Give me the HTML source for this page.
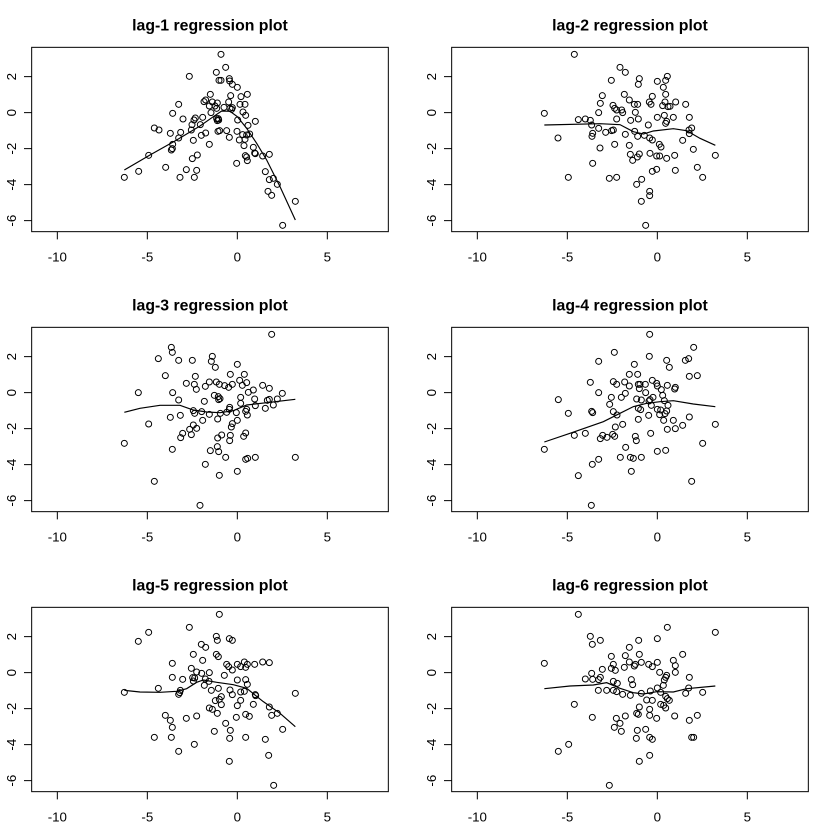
<!DOCTYPE html>
<html><head><meta charset="utf-8"><style>
html,body{margin:0;padding:0;background:#fff}
svg{display:block}
text{font-family:"Liberation Sans",sans-serif;fill:#000}
.t{font-size:47.5px;font-weight:bold;text-anchor:middle}
.l{font-size:40px;text-anchor:middle}
.f{fill:none;stroke:#000;stroke-width:3}
.p circle{fill:none;stroke:#000;stroke-width:3;r:9}
.ln{fill:none;stroke:#000;stroke-width:3.5}
</style></head><body>
<svg width="840" height="840" viewBox="0 0 840 840" xmlns="http://www.w3.org/2000/svg">
<defs>
<g id="ax">
<rect class="f" x="95" y="142" width="1070" height="553"/>
<path class="f" d="M172,695V718M442,695V718M712,695V718M982,695V718M95,230H72M95,338H72M95,446H72M95,554H72M95,662H72"/>
</g>
</defs>

<!-- Panel 1 -->
<g transform="translate(0,0) scale(0.33333)">
<use href="#ax"/>
<text class="t" x="630" y="92">lag-1 regression plot</text>
<text class="l" x="172" y="785">-10</text><text class="l" x="442" y="785">-5</text><text class="l" x="712" y="785">0</text><text class="l" x="982" y="785">5</text>
<text class="l" transform="translate(48,230) rotate(-90)">2</text><text class="l" transform="translate(48,338) rotate(-90)">0</text><text class="l" transform="translate(48,446) rotate(-90)">-2</text><text class="l" transform="translate(48,554) rotate(-90)">-4</text><text class="l" transform="translate(48,662) rotate(-90)">-6</text>
<polyline class="ln" points="373,510 450,465 530,420 600,378 640,350 665,333 690,334 712,350 740,385 770,430 800,480 840,560 886,660"/>
<g class="p">
<circle cx="663" cy="163" r="9"/><circle cx="649" cy="217" r="9"/><circle cx="677" cy="202" r="9"/><circle cx="568" cy="229" r="9"/><circle cx="657" cy="241" r="9"/><circle cx="663" cy="241" r="9"/><circle cx="688" cy="236" r="9"/><circle cx="689" cy="243" r="9"/><circle cx="697" cy="253" r="9"/><circle cx="712" cy="262" r="9"/><circle cx="631" cy="283" r="9"/><circle cx="692" cy="287" r="9"/><circle cx="742" cy="283" r="9"/><circle cx="723" cy="290" r="9"/><circle cx="612" cy="305" r="9"/><circle cx="617" cy="300" r="9"/><circle cx="637" cy="306" r="9"/><circle cx="652" cy="309" r="9"/><circle cx="686" cy="306" r="9"/><circle cx="720" cy="313" r="9"/><circle cx="735" cy="313" r="9"/><circle cx="536" cy="313" r="9"/><circle cx="628" cy="318" r="9"/><circle cx="645" cy="318" r="9"/><circle cx="650" cy="325" r="9"/><circle cx="672" cy="322" r="9"/><circle cx="690" cy="325" r="9"/><circle cx="695" cy="328" r="9"/><circle cx="697" cy="323" r="9"/><circle cx="729" cy="336" r="9"/><circle cx="633" cy="338" r="9"/><circle cx="518" cy="340" r="9"/><circle cx="737" cy="346" r="9"/><circle cx="549" cy="357" r="9"/><circle cx="586" cy="354" r="9"/><circle cx="582" cy="360" r="9"/><circle cx="608" cy="352" r="9"/><circle cx="650" cy="356" r="9"/><circle cx="655" cy="356" r="9"/><circle cx="656" cy="360" r="9"/><circle cx="652" cy="362" r="9"/><circle cx="713" cy="360" r="9"/><circle cx="766" cy="364" r="9"/><circle cx="744" cy="376" r="9"/><circle cx="601" cy="374" r="9"/><circle cx="576" cy="374" r="9"/><circle cx="463" cy="384" r="9"/><circle cx="477" cy="390" r="9"/><circle cx="511" cy="400" r="9"/><circle cx="542" cy="397" r="9"/><circle cx="574" cy="390" r="9"/><circle cx="654" cy="394" r="9"/><circle cx="659" cy="392" r="9"/><circle cx="680" cy="392" r="9"/><circle cx="711" cy="394" r="9"/><circle cx="728" cy="404" r="9"/><circle cx="740" cy="405" r="9"/><circle cx="749" cy="402" r="9"/><circle cx="688" cy="412" r="9"/><circle cx="617" cy="399" r="9"/><circle cx="604" cy="406" r="9"/><circle cx="536" cy="414" r="9"/><circle cx="718" cy="420" r="9"/><circle cx="735" cy="418" r="9"/><circle cx="580" cy="421" r="9"/><circle cx="628" cy="433" r="9"/><circle cx="518" cy="433" r="9"/><circle cx="517" cy="446" r="9"/><circle cx="514" cy="450" r="9"/><circle cx="732" cy="437" r="9"/><circle cx="760" cy="442" r="9"/><circle cx="764" cy="459" r="9"/><circle cx="766" cy="461" r="9"/><circle cx="446" cy="466" r="9"/><circle cx="592" cy="465" r="9"/><circle cx="736" cy="467" r="9"/><circle cx="740" cy="471" r="9"/><circle cx="742" cy="482" r="9"/><circle cx="788" cy="468" r="9"/><circle cx="808" cy="463" r="9"/><circle cx="577" cy="476" r="9"/><circle cx="710" cy="490" r="9"/><circle cx="497" cy="502" r="9"/><circle cx="559" cy="509" r="9"/><circle cx="590" cy="511" r="9"/><circle cx="416" cy="514" r="9"/><circle cx="796" cy="515" r="9"/><circle cx="373" cy="532" r="9"/><circle cx="540" cy="532" r="9"/><circle cx="583" cy="532" r="9"/><circle cx="808" cy="539" r="9"/><circle cx="820" cy="535" r="9"/><circle cx="832" cy="553" r="9"/><circle cx="804" cy="574" r="9"/><circle cx="815" cy="586" r="9"/><circle cx="886" cy="604" r="9"/><circle cx="848" cy="676" r="9"/>
</g></g>

<!-- Panel 2 -->
<g transform="translate(420,0) scale(0.33333)">
<use href="#ax"/>
<text class="t" x="630" y="92">lag-2 regression plot</text>
<text class="l" x="172" y="785">-10</text><text class="l" x="442" y="785">-5</text><text class="l" x="712" y="785">0</text><text class="l" x="982" y="785">5</text>
<text class="l" transform="translate(48,230) rotate(-90)">2</text><text class="l" transform="translate(48,338) rotate(-90)">0</text><text class="l" transform="translate(48,446) rotate(-90)">-2</text><text class="l" transform="translate(48,554) rotate(-90)">-4</text><text class="l" transform="translate(48,662) rotate(-90)">-6</text>
<polyline class="ln" points="373,375 540,371 600,374 640,395 670,402 700,393 760,386 800,392 840,415 886,436"/>
<g class="p">
<circle cx="463" cy="163" r="9"/><circle cx="600" cy="202" r="9"/><circle cx="616" cy="217" r="9"/><circle cx="574" cy="241" r="9"/><circle cx="658" cy="236" r="9"/><circle cx="655" cy="253" r="9"/><circle cx="742" cy="229" r="9"/><circle cx="737" cy="241" r="9"/><circle cx="712" cy="244" r="9"/><circle cx="730" cy="262" r="9"/><circle cx="613" cy="283" r="9"/><circle cx="547" cy="287" r="9"/><circle cx="697" cy="289" r="9"/><circle cx="737" cy="283" r="9"/><circle cx="628" cy="300" r="9"/><circle cx="541" cy="310" r="9"/><circle cx="579" cy="316" r="9"/><circle cx="643" cy="313" r="9"/><circle cx="653" cy="313" r="9"/><circle cx="688" cy="306" r="9"/><circle cx="693" cy="313" r="9"/><circle cx="735" cy="306" r="9"/><circle cx="728" cy="317" r="9"/><circle cx="744" cy="320" r="9"/><circle cx="750" cy="319" r="9"/><circle cx="767" cy="306" r="9"/><circle cx="797" cy="313" r="9"/><circle cx="584" cy="325" r="9"/><circle cx="590" cy="330" r="9"/><circle cx="605" cy="330" r="9"/><circle cx="608" cy="338" r="9"/><circle cx="536" cy="338" r="9"/><circle cx="373" cy="340" r="9"/><circle cx="646" cy="337" r="9"/><circle cx="733" cy="346" r="9"/><circle cx="712" cy="352" r="9"/><circle cx="760" cy="352" r="9"/><circle cx="808" cy="352" r="9"/><circle cx="590" cy="357" r="9"/><circle cx="632" cy="361" r="9"/><circle cx="655" cy="357" r="9"/><circle cx="475" cy="359" r="9"/><circle cx="496" cy="357" r="9"/><circle cx="511" cy="361" r="9"/><circle cx="515" cy="375" r="9"/><circle cx="685" cy="375" r="9"/><circle cx="737" cy="370" r="9"/><circle cx="740" cy="364" r="9"/><circle cx="536" cy="385" r="9"/><circle cx="580" cy="390" r="9"/><circle cx="575" cy="392" r="9"/><circle cx="815" cy="384" r="9"/><circle cx="807" cy="390" r="9"/><circle cx="557" cy="397" r="9"/><circle cx="518" cy="400" r="9"/><circle cx="516" cy="409" r="9"/><circle cx="616" cy="403" r="9"/><circle cx="644" cy="394" r="9"/><circle cx="653" cy="409" r="9"/><circle cx="673" cy="406" r="9"/><circle cx="689" cy="414" r="9"/><circle cx="697" cy="420" r="9"/><circle cx="808" cy="401" r="9"/><circle cx="414" cy="414" r="9"/><circle cx="788" cy="421" r="9"/><circle cx="628" cy="436" r="9"/><circle cx="718" cy="433" r="9"/><circle cx="723" cy="441" r="9"/><circle cx="584" cy="433" r="9"/><circle cx="540" cy="444" r="9"/><circle cx="820" cy="448" r="9"/><circle cx="631" cy="463" r="9"/><circle cx="658" cy="462" r="9"/><circle cx="652" cy="471" r="9"/><circle cx="690" cy="460" r="9"/><circle cx="638" cy="481" r="9"/><circle cx="710" cy="468" r="9"/><circle cx="719" cy="468" r="9"/><circle cx="740" cy="475" r="9"/><circle cx="764" cy="466" r="9"/><circle cx="886" cy="466" r="9"/><circle cx="518" cy="490" r="9"/><circle cx="832" cy="502" r="9"/><circle cx="697" cy="514" r="9"/><circle cx="710" cy="508" r="9"/><circle cx="766" cy="511" r="9"/><circle cx="445" cy="532" r="9"/><circle cx="568" cy="535" r="9"/><circle cx="590" cy="532" r="9"/><circle cx="848" cy="532" r="9"/><circle cx="650" cy="553" r="9"/><circle cx="665" cy="538" r="9"/><circle cx="689" cy="574" r="9"/><circle cx="689" cy="587" r="9"/><circle cx="664" cy="604" r="9"/><circle cx="677" cy="676" r="9"/>
</g></g>

<!-- Panel 3 -->
<g transform="translate(0,280) scale(0.33333)">
<use href="#ax"/>
<text class="t" x="630" y="92">lag-3 regression plot</text>
<text class="l" x="172" y="785">-10</text><text class="l" x="442" y="785">-5</text><text class="l" x="712" y="785">0</text><text class="l" x="982" y="785">5</text>
<text class="l" transform="translate(48,230) rotate(-90)">2</text><text class="l" transform="translate(48,338) rotate(-90)">0</text><text class="l" transform="translate(48,446) rotate(-90)">-2</text><text class="l" transform="translate(48,554) rotate(-90)">-4</text><text class="l" transform="translate(48,662) rotate(-90)">-6</text>
<polyline class="ln" points="373,397 420,385 480,376 540,376 580,390 620,396 660,398 700,392 740,375 800,368 886,358"/>
<g class="p">
<circle cx="815" cy="163" r="9"/><circle cx="514" cy="202" r="9"/><circle cx="517" cy="217" r="9"/><circle cx="637" cy="229" r="9"/><circle cx="475" cy="236" r="9"/><circle cx="536" cy="241" r="9"/><circle cx="577" cy="241" r="9"/><circle cx="634" cy="244" r="9"/><circle cx="712" cy="253" r="9"/><circle cx="646" cy="262" r="9"/><circle cx="496" cy="287" r="9"/><circle cx="691" cy="283" r="9"/><circle cx="586" cy="289" r="9"/><circle cx="733" cy="283" r="9"/><circle cx="719" cy="301" r="9"/><circle cx="628" cy="306" r="9"/><circle cx="649" cy="306" r="9"/><circle cx="658" cy="313" r="9"/><circle cx="559" cy="310" r="9"/><circle cx="583" cy="313" r="9"/><circle cx="740" cy="308" r="9"/><circle cx="697" cy="313" r="9"/><circle cx="674" cy="317" r="9"/><circle cx="686" cy="322" r="9"/><circle cx="727" cy="316" r="9"/><circle cx="589" cy="328" r="9"/><circle cx="616" cy="319" r="9"/><circle cx="788" cy="316" r="9"/><circle cx="808" cy="325" r="9"/><circle cx="760" cy="330" r="9"/><circle cx="847" cy="340" r="9"/><circle cx="415" cy="338" r="9"/><circle cx="518" cy="338" r="9"/><circle cx="643" cy="346" r="9"/><circle cx="655" cy="350" r="9"/><circle cx="660" cy="356" r="9"/><circle cx="745" cy="337" r="9"/><circle cx="536" cy="360" r="9"/><circle cx="613" cy="364" r="9"/><circle cx="656" cy="359" r="9"/><circle cx="722" cy="352" r="9"/><circle cx="764" cy="357" r="9"/><circle cx="802" cy="361" r="9"/><circle cx="808" cy="358" r="9"/><circle cx="832" cy="357" r="9"/><circle cx="820" cy="375" r="9"/><circle cx="766" cy="377" r="9"/><circle cx="722" cy="370" r="9"/><circle cx="689" cy="382" r="9"/><circle cx="688" cy="388" r="9"/><circle cx="740" cy="388" r="9"/><circle cx="737" cy="394" r="9"/><circle cx="796" cy="385" r="9"/><circle cx="580" cy="392" r="9"/><circle cx="584" cy="400" r="9"/><circle cx="605" cy="395" r="9"/><circle cx="628" cy="403" r="9"/><circle cx="661" cy="400" r="9"/><circle cx="680" cy="397" r="9"/><circle cx="709" cy="398" r="9"/><circle cx="742" cy="405" r="9"/><circle cx="511" cy="412" r="9"/><circle cx="541" cy="406" r="9"/><circle cx="653" cy="417" r="9"/><circle cx="712" cy="421" r="9"/><circle cx="608" cy="421" r="9"/><circle cx="446" cy="432" r="9"/><circle cx="580" cy="435" r="9"/><circle cx="697" cy="431" r="9"/><circle cx="694" cy="441" r="9"/><circle cx="569" cy="448" r="9"/><circle cx="590" cy="445" r="9"/><circle cx="548" cy="460" r="9"/><circle cx="574" cy="464" r="9"/><circle cx="542" cy="473" r="9"/><circle cx="653" cy="474" r="9"/><circle cx="665" cy="465" r="9"/><circle cx="691" cy="466" r="9"/><circle cx="689" cy="482" r="9"/><circle cx="731" cy="469" r="9"/><circle cx="737" cy="459" r="9"/><circle cx="652" cy="500" r="9"/><circle cx="631" cy="512" r="9"/><circle cx="656" cy="515" r="9"/><circle cx="517" cy="508" r="9"/><circle cx="677" cy="532" r="9"/><circle cx="737" cy="538" r="9"/><circle cx="743" cy="535" r="9"/><circle cx="766" cy="532" r="9"/><circle cx="886" cy="532" r="9"/><circle cx="616" cy="553" r="9"/><circle cx="712" cy="574" r="9"/><circle cx="658" cy="586" r="9"/><circle cx="463" cy="604" r="9"/><circle cx="373" cy="490" r="9"/><circle cx="600" cy="676" r="9"/>
</g></g>

<!-- Panel 4 -->
<g transform="translate(420,280) scale(0.33333)">
<use href="#ax"/>
<text class="t" x="630" y="92">lag-4 regression plot</text>
<text class="l" x="172" y="785">-10</text><text class="l" x="442" y="785">-5</text><text class="l" x="712" y="785">0</text><text class="l" x="982" y="785">5</text>
<text class="l" transform="translate(48,230) rotate(-90)">2</text><text class="l" transform="translate(48,338) rotate(-90)">0</text><text class="l" transform="translate(48,446) rotate(-90)">-2</text><text class="l" transform="translate(48,554) rotate(-90)">-4</text><text class="l" transform="translate(48,662) rotate(-90)">-6</text>
<polyline class="ln" points="373,486 450,460 550,425 600,400 640,380 680,370 720,365 760,362 820,372 886,380"/>
<g class="p">
<circle cx="689" cy="163" r="9"/><circle cx="821" cy="202" r="9"/><circle cx="583" cy="217" r="9"/><circle cx="688" cy="229" r="9"/><circle cx="536" cy="244" r="9"/><circle cx="740" cy="241" r="9"/><circle cx="796" cy="241" r="9"/><circle cx="806" cy="236" r="9"/><circle cx="643" cy="253" r="9"/><circle cx="748" cy="262" r="9"/><circle cx="628" cy="283" r="9"/><circle cx="653" cy="283" r="9"/><circle cx="808" cy="289" r="9"/><circle cx="832" cy="287" r="9"/><circle cx="697" cy="301" r="9"/><circle cx="511" cy="307" r="9"/><circle cx="580" cy="305" r="9"/><circle cx="614" cy="306" r="9"/><circle cx="590" cy="313" r="9"/><circle cx="628" cy="318" r="9"/><circle cx="655" cy="313" r="9"/><circle cx="660" cy="313" r="9"/><circle cx="676" cy="313" r="9"/><circle cx="710" cy="310" r="9"/><circle cx="712" cy="318" r="9"/><circle cx="742" cy="316" r="9"/><circle cx="766" cy="322" r="9"/><circle cx="764" cy="327" r="9"/><circle cx="658" cy="326" r="9"/><circle cx="724" cy="329" r="9"/><circle cx="536" cy="338" r="9"/><circle cx="616" cy="340" r="9"/><circle cx="677" cy="338" r="9"/><circle cx="728" cy="346" r="9"/><circle cx="574" cy="352" r="9"/><circle cx="604" cy="352" r="9"/><circle cx="415" cy="359" r="9"/><circle cx="650" cy="357" r="9"/><circle cx="664" cy="360" r="9"/><circle cx="690" cy="359" r="9"/><circle cx="699" cy="352" r="9"/><circle cx="687" cy="363" r="9"/><circle cx="733" cy="362" r="9"/><circle cx="744" cy="376" r="9"/><circle cx="694" cy="376" r="9"/><circle cx="569" cy="373" r="9"/><circle cx="655" cy="385" r="9"/><circle cx="662" cy="389" r="9"/><circle cx="712" cy="388" r="9"/><circle cx="722" cy="390" r="9"/><circle cx="740" cy="393" r="9"/><circle cx="515" cy="394" r="9"/><circle cx="518" cy="398" r="9"/><circle cx="445" cy="400" r="9"/><circle cx="580" cy="395" r="9"/><circle cx="591" cy="405" r="9"/><circle cx="719" cy="404" r="9"/><circle cx="735" cy="401" r="9"/><circle cx="686" cy="406" r="9"/><circle cx="808" cy="411" r="9"/><circle cx="655" cy="418" r="9"/><circle cx="731" cy="421" r="9"/><circle cx="760" cy="421" r="9"/><circle cx="788" cy="436" r="9"/><circle cx="886" cy="433" r="9"/><circle cx="608" cy="433" r="9"/><circle cx="586" cy="441" r="9"/><circle cx="742" cy="448" r="9"/><circle cx="766" cy="446" r="9"/><circle cx="463" cy="466" r="9"/><circle cx="496" cy="460" r="9"/><circle cx="548" cy="466" r="9"/><circle cx="541" cy="476" r="9"/><circle cx="561" cy="472" r="9"/><circle cx="578" cy="463" r="9"/><circle cx="584" cy="469" r="9"/><circle cx="646" cy="469" r="9"/><circle cx="692" cy="460" r="9"/><circle cx="649" cy="482" r="9"/><circle cx="617" cy="502" r="9"/><circle cx="712" cy="514" r="9"/><circle cx="737" cy="511" r="9"/><circle cx="848" cy="490" r="9"/><circle cx="373" cy="508" r="9"/><circle cx="536" cy="538" r="9"/><circle cx="601" cy="532" r="9"/><circle cx="631" cy="532" r="9"/><circle cx="640" cy="535" r="9"/><circle cx="664" cy="532" r="9"/><circle cx="517" cy="553" r="9"/><circle cx="634" cy="574" r="9"/><circle cx="475" cy="587" r="9"/><circle cx="815" cy="604" r="9"/><circle cx="514" cy="676" r="9"/>
</g></g>

<!-- Panel 5 -->
<g transform="translate(0,560) scale(0.33333)">
<use href="#ax"/>
<text class="t" x="630" y="92">lag-5 regression plot</text>
<text class="l" x="172" y="785">-10</text><text class="l" x="442" y="785">-5</text><text class="l" x="712" y="785">0</text><text class="l" x="982" y="785">5</text>
<text class="l" transform="translate(48,230) rotate(-90)">2</text><text class="l" transform="translate(48,338) rotate(-90)">0</text><text class="l" transform="translate(48,446) rotate(-90)">-2</text><text class="l" transform="translate(48,554) rotate(-90)">-4</text><text class="l" transform="translate(48,662) rotate(-90)">-6</text>
<polyline class="ln" points="373,391 420,396 480,397 530,394 560,386 590,367 610,360 650,367 700,374 740,385 790,425 840,460 886,500"/>
<g class="p">
<circle cx="658" cy="163" r="9"/><circle cx="568" cy="202" r="9"/><circle cx="446" cy="217" r="9"/><circle cx="415" cy="244" r="9"/><circle cx="649" cy="229" r="9"/><circle cx="652" cy="241" r="9"/><circle cx="688" cy="236" r="9"/><circle cx="697" cy="241" r="9"/><circle cx="604" cy="253" r="9"/><circle cx="617" cy="262" r="9"/><circle cx="580" cy="283" r="9"/><circle cx="649" cy="283" r="9"/><circle cx="655" cy="290" r="9"/><circle cx="608" cy="301" r="9"/><circle cx="517" cy="310" r="9"/><circle cx="680" cy="313" r="9"/><circle cx="686" cy="320" r="9"/><circle cx="697" cy="330" r="9"/><circle cx="712" cy="313" r="9"/><circle cx="722" cy="320" r="9"/><circle cx="733" cy="306" r="9"/><circle cx="742" cy="313" r="9"/><circle cx="737" cy="322" r="9"/><circle cx="764" cy="313" r="9"/><circle cx="788" cy="306" r="9"/><circle cx="808" cy="308" r="9"/><circle cx="574" cy="325" r="9"/><circle cx="590" cy="336" r="9"/><circle cx="628" cy="338" r="9"/><circle cx="605" cy="340" r="9"/><circle cx="673" cy="346" r="9"/><circle cx="517" cy="352" r="9"/><circle cx="548" cy="358" r="9"/><circle cx="578" cy="353" r="9"/><circle cx="584" cy="354" r="9"/><circle cx="580" cy="363" r="9"/><circle cx="616" cy="357" r="9"/><circle cx="627" cy="364" r="9"/><circle cx="712" cy="360" r="9"/><circle cx="737" cy="359" r="9"/><circle cx="742" cy="373" r="9"/><circle cx="613" cy="376" r="9"/><circle cx="475" cy="385" r="9"/><circle cx="655" cy="385" r="9"/><circle cx="634" cy="391" r="9"/><circle cx="690" cy="390" r="9"/><circle cx="697" cy="404" r="9"/><circle cx="722" cy="396" r="9"/><circle cx="733" cy="394" r="9"/><circle cx="766" cy="404" r="9"/><circle cx="767" cy="407" r="9"/><circle cx="373" cy="397" r="9"/><circle cx="541" cy="391" r="9"/><circle cx="539" cy="398" r="9"/><circle cx="536" cy="403" r="9"/><circle cx="664" cy="410" r="9"/><circle cx="658" cy="418" r="9"/><circle cx="646" cy="422" r="9"/><circle cx="722" cy="421" r="9"/><circle cx="628" cy="444" r="9"/><circle cx="637" cy="448" r="9"/><circle cx="664" cy="434" r="9"/><circle cx="712" cy="437" r="9"/><circle cx="760" cy="433" r="9"/><circle cx="808" cy="441" r="9"/><circle cx="815" cy="466" r="9"/><circle cx="832" cy="460" r="9"/><circle cx="652" cy="460" r="9"/><circle cx="496" cy="466" r="9"/><circle cx="511" cy="481" r="9"/><circle cx="517" cy="502" r="9"/><circle cx="559" cy="475" r="9"/><circle cx="590" cy="468" r="9"/><circle cx="709" cy="472" r="9"/><circle cx="737" cy="463" r="9"/><circle cx="748" cy="469" r="9"/><circle cx="677" cy="490" r="9"/><circle cx="643" cy="514" r="9"/><circle cx="691" cy="511" r="9"/><circle cx="848" cy="508" r="9"/><circle cx="463" cy="532" r="9"/><circle cx="514" cy="532" r="9"/><circle cx="737" cy="532" r="9"/><circle cx="689" cy="535" r="9"/><circle cx="796" cy="538" r="9"/><circle cx="583" cy="553" r="9"/><circle cx="536" cy="574" r="9"/><circle cx="806" cy="586" r="9"/><circle cx="688" cy="604" r="9"/><circle cx="821" cy="676" r="9"/><circle cx="886" cy="400" r="9"/>
</g></g>

<!-- Panel 6 -->
<g transform="translate(420,560) scale(0.33333)">
<use href="#ax"/>
<text class="t" x="630" y="92">lag-6 regression plot</text>
<text class="l" x="172" y="785">-10</text><text class="l" x="442" y="785">-5</text><text class="l" x="712" y="785">0</text><text class="l" x="982" y="785">5</text>
<text class="l" transform="translate(48,230) rotate(-90)">2</text><text class="l" transform="translate(48,338) rotate(-90)">0</text><text class="l" transform="translate(48,446) rotate(-90)">-2</text><text class="l" transform="translate(48,554) rotate(-90)">-4</text><text class="l" transform="translate(48,662) rotate(-90)">-6</text>
<polyline class="ln" points="373,386 450,378 520,375 560,368 600,385 640,398 670,402 710,395 760,396 800,386 886,378"/>
<g class="p">
<circle cx="475" cy="163" r="9"/><circle cx="742" cy="202" r="9"/><circle cx="886" cy="217" r="9"/><circle cx="511" cy="229" r="9"/><circle cx="517" cy="253" r="9"/><circle cx="541" cy="241" r="9"/><circle cx="656" cy="241" r="9"/><circle cx="712" cy="236" r="9"/><circle cx="628" cy="262" r="9"/><circle cx="658" cy="283" r="9"/><circle cx="616" cy="287" r="9"/><circle cx="574" cy="289" r="9"/><circle cx="788" cy="283" r="9"/><circle cx="760" cy="301" r="9"/><circle cx="373" cy="310" r="9"/><circle cx="580" cy="313" r="9"/><circle cx="628" cy="306" r="9"/><circle cx="664" cy="307" r="9"/><circle cx="646" cy="313" r="9"/><circle cx="686" cy="313" r="9"/><circle cx="697" cy="320" r="9"/><circle cx="712" cy="307" r="9"/><circle cx="766" cy="317" r="9"/><circle cx="547" cy="328" r="9"/><circle cx="574" cy="325" r="9"/><circle cx="586" cy="331" r="9"/><circle cx="643" cy="318" r="9"/><circle cx="613" cy="322" r="9"/><circle cx="719" cy="337" r="9"/><circle cx="766" cy="337" r="9"/><circle cx="515" cy="340" r="9"/><circle cx="541" cy="352" r="9"/><circle cx="536" cy="359" r="9"/><circle cx="496" cy="357" r="9"/><circle cx="518" cy="358" r="9"/><circle cx="634" cy="359" r="9"/><circle cx="638" cy="374" r="9"/><circle cx="580" cy="364" r="9"/><circle cx="592" cy="370" r="9"/><circle cx="740" cy="346" r="9"/><circle cx="737" cy="352" r="9"/><circle cx="733" cy="360" r="9"/><circle cx="730" cy="376" r="9"/><circle cx="808" cy="352" r="9"/><circle cx="806" cy="384" r="9"/><circle cx="560" cy="391" r="9"/><circle cx="580" cy="391" r="9"/><circle cx="590" cy="395" r="9"/><circle cx="608" cy="403" r="9"/><circle cx="631" cy="406" r="9"/><circle cx="664" cy="400" r="9"/><circle cx="691" cy="393" r="9"/><circle cx="712" cy="384" r="9"/><circle cx="722" cy="397" r="9"/><circle cx="535" cy="391" r="9"/><circle cx="737" cy="409" r="9"/><circle cx="742" cy="416" r="9"/><circle cx="748" cy="421" r="9"/><circle cx="680" cy="420" r="9"/><circle cx="697" cy="421" r="9"/><circle cx="797" cy="400" r="9"/><circle cx="848" cy="397" r="9"/><circle cx="463" cy="433" r="9"/><circle cx="658" cy="441" r="9"/><circle cx="689" cy="448" r="9"/><circle cx="722" cy="433" r="9"/><circle cx="731" cy="436" r="9"/><circle cx="737" cy="444" r="9"/><circle cx="650" cy="460" r="9"/><circle cx="655" cy="463" r="9"/><circle cx="616" cy="468" r="9"/><circle cx="589" cy="475" r="9"/><circle cx="517" cy="472" r="9"/><circle cx="689" cy="466" r="9"/><circle cx="710" cy="475" r="9"/><circle cx="764" cy="468" r="9"/><circle cx="832" cy="466" r="9"/><circle cx="808" cy="481" r="9"/><circle cx="583" cy="502" r="9"/><circle cx="600" cy="490" r="9"/><circle cx="604" cy="514" r="9"/><circle cx="652" cy="511" r="9"/><circle cx="649" cy="535" r="9"/><circle cx="677" cy="508" r="9"/><circle cx="689" cy="532" r="9"/><circle cx="697" cy="538" r="9"/><circle cx="815" cy="532" r="9"/><circle cx="821" cy="532" r="9"/><circle cx="446" cy="553" r="9"/><circle cx="415" cy="574" r="9"/><circle cx="689" cy="586" r="9"/><circle cx="658" cy="604" r="9"/><circle cx="568" cy="676" r="9"/>
</g></g>
</svg>
</body></html>
